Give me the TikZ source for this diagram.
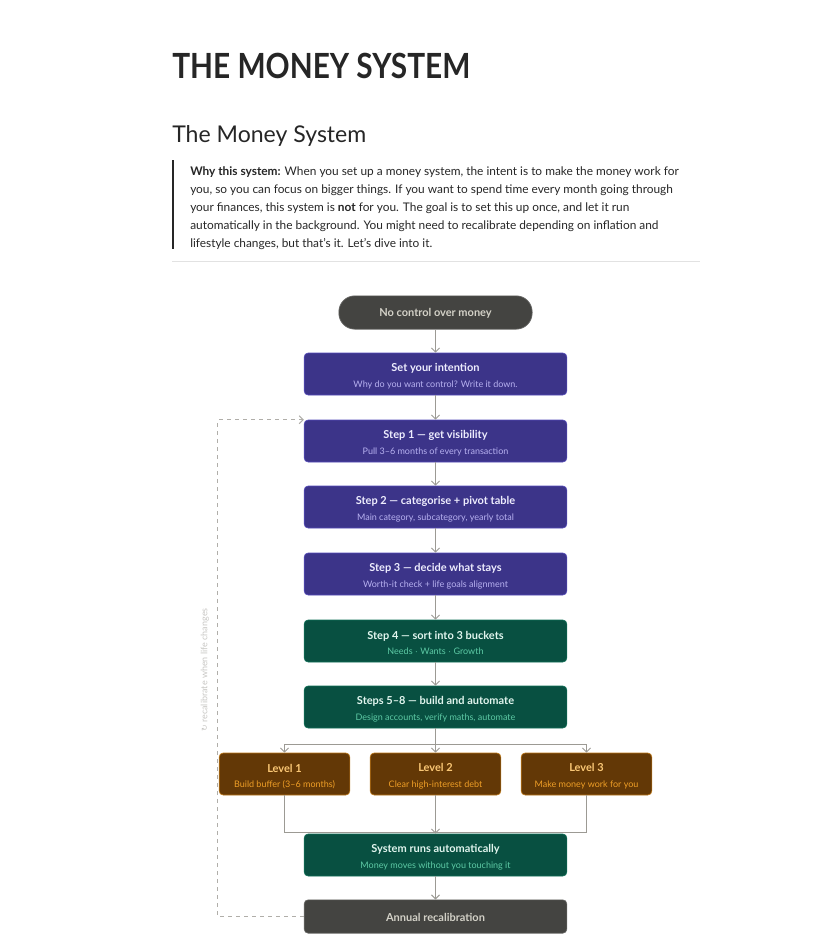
\documentclass[tikz,border=0pt]{standalone}
\usepackage{fontspec}
\setmainfont{Lato}
\newfontfamily\headfont[FakeStretch=0.86]{Lato}
\newfontfamily\symfont{DejaVu Sans}
\usetikzlibrary{positioning,arrows.meta}

\definecolor{inkdark}{HTML}{262626}
\definecolor{rulegray}{HTML}{E2E2E2}
\definecolor{linegray}{HTML}{9C9A94}
\definecolor{purplefill}{HTML}{3C3489}
\definecolor{purpleedge}{HTML}{534AB7}
\definecolor{purpletop}{HTML}{EEEDFE}
\definecolor{purplesub}{HTML}{B7B1F0}
\definecolor{greenfill}{HTML}{085041}
\definecolor{greenedge}{HTML}{0F6E56}
\definecolor{greentop}{HTML}{E1F5EE}
\definecolor{greensub}{HTML}{5DCAA5}
\definecolor{brownfill}{HTML}{633806}
\definecolor{brownedge}{HTML}{BA7517}
\definecolor{browntop}{HTML}{FAC775}
\definecolor{brownsub}{HTML}{EF9F27}
\definecolor{grayfill}{HTML}{444441}
\definecolor{graytext}{HTML}{D3D1C7}

\begin{document}
\begin{tikzpicture}[x=0.75pt,y=-0.75pt]
    \tikzset{
    stepbox/.style={
        draw=purpleedge,
        line width=0.5pt,
        fill=purplefill,
        rounded corners=3pt,
        minimum width=197pt,
        minimum height=31.5pt,
        text height=21pt,
        align=center,
        inner sep=0pt
    },
    greenbox/.style={
        stepbox,
        draw=greenedge,
        fill=greenfill
    },
    levelbox/.style={
        stepbox,
        draw=brownedge,
        fill=brownfill,
        minimum width=98pt
    },
    endbox/.style={
        stepbox,
        draw=grayfill!80!white,
        fill=grayfill,
        minimum height=25pt,
        text height=7pt,
        text=graytext,
        font=\fontsize{8.25}{10}\selectfont\bfseries
    },
    flow/.style={
        line width=0.75pt,
        linegray,
        -{Straight Barb[length=3pt,width=6pt]}
    },
    link/.style={
        line width=0.75pt,
        linegray
    }
}
    \useasboundingbox (0,0) rectangle (827,951);

    % page heading and intro
    \node[anchor=base west, inner sep=0pt, text=inkdark, font=\headfont\fontsize{26}{30}\selectfont\bfseries] (title) at (172,78) {THE MONEY SYSTEM};
    \node[anchor=base west, inner sep=0pt, text=inkdark, font=\fontsize{17.3}{21}\selectfont] (subtitle) at (172,142) {The Money System};
    \node[anchor=north west, inner sep=0pt, align=left, text=inkdark, font=\fontsize{8.9}{13.5}\selectfont] (intro) at (190,166)
        {\textbf{Why this system:} When you set up a money system, the intent is to make the money work for\\
         you, so you can focus on bigger things. If you want to spend time every month going through\\
         your finances, this system is \textbf{not} for you. The goal is to set this up once, and let it run\\
         automatically in the background. You might need to recalibrate depending on inflation and\\
         lifestyle changes, but that's it. Let's dive into it.};
    \draw[inkdark, line width=1.5pt] (173,160) -- (173,249);
    \draw[rulegray, line width=0.75pt] (172,261.5) -- (700,261.5);

    % flow boxes
    \node[endbox, rounded corners=12pt, minimum width=145pt] (start) at (435.5,312.5) {No control over money};

    \node[stepbox] (intent) at (435.5,374) {\textcolor{purpletop}{\fontsize{8.25}{11}\selectfont\bfseries Set your intention}\\[-0.5pt]
        \textcolor{purplesub}{\fontsize{6.75}{9}\selectfont Why do you want control? Write it down.}};
    \node[stepbox] (s1) at (435.5,441) {\textcolor{purpletop}{\fontsize{8.25}{11}\selectfont\bfseries Step 1 --- get visibility}\\[-0.5pt]
        \textcolor{purplesub}{\fontsize{6.75}{9}\selectfont Pull 3--6 months of every transaction}};
    \node[stepbox] (s2) at (435.5,507) {\textcolor{purpletop}{\fontsize{8.25}{11}\selectfont\bfseries Step 2 --- categorise + pivot table}\\[-0.5pt]
        \textcolor{purplesub}{\fontsize{6.75}{9}\selectfont Main category, subcategory, yearly total}};
    \node[stepbox] (s3) at (435.5,574) {\textcolor{purpletop}{\fontsize{8.25}{11}\selectfont\bfseries Step 3 --- decide what stays}\\[-0.5pt]
        \textcolor{purplesub}{\fontsize{6.75}{9}\selectfont Worth-it check + life goals alignment}};
    \node[greenbox] (s4) at (435.5,641) {\textcolor{greentop}{\fontsize{8.25}{11}\selectfont\bfseries Step 4 --- sort into 3 buckets}\\[-0.5pt]
        \textcolor{greensub}{\fontsize{6.75}{9}\selectfont Needs $\cdot$ Wants $\cdot$ Growth}};
    \node[greenbox] (s58) at (435.5,707) {\textcolor{greentop}{\fontsize{8.25}{11}\selectfont\bfseries Steps 5--8 --- build and automate}\\[-0.5pt]
        \textcolor{greensub}{\fontsize{6.75}{9}\selectfont Design accounts, verify maths, automate}};

    \node[levelbox] (l1) at (284.5,774) {\textcolor{browntop}{\fontsize{8.25}{11}\selectfont\bfseries Level 1}\\[-0.5pt]
        \textcolor{brownsub}{\fontsize{6.75}{9}\selectfont Build buffer (3--6 months)}};
    \node[levelbox] (l2) at (435.5,774) {\textcolor{browntop}{\fontsize{8.25}{11}\selectfont\bfseries Level 2}\\[-0.5pt]
        \textcolor{brownsub}{\fontsize{6.75}{9}\selectfont Clear high-interest debt}};
    \node[levelbox] (l3) at (586.5,774) {\textcolor{browntop}{\fontsize{8.25}{11}\selectfont\bfseries Level 3}\\[-0.5pt]
        \textcolor{brownsub}{\fontsize{6.75}{9}\selectfont Make money work for you}};

    \node[greenbox] (auto) at (435.5,855) {\textcolor{greentop}{\fontsize{8.25}{11}\selectfont\bfseries System runs automatically}\\[-0.5pt]
        \textcolor{greensub}{\fontsize{6.75}{9}\selectfont Money moves without you touching it}};
    \node[endbox] (annual) at (435.5,916.5) {Annual recalibration};

    % connectors
    \draw[flow] (start) -- (intent);
    \draw[flow] (intent) -- (s1);
    \draw[flow] (s1) -- (s2);
    \draw[flow] (s2) -- (s3);
    \draw[flow] (s3) -- (s4);
    \draw[flow] (s4) -- (s58);

    \draw[link] (s58.south) -- ++(0,16) coordinate (fork);
    \draw[flow] (fork) -| (l1.north);
    \draw[flow] (fork) -- (l2.north);
    \draw[flow] (fork) -| (l3.north);

    \coordinate (join) at (435.5,832);
    \draw[link] (l1.south) |- (join);
    \draw[link] (l3.south) |- (join);
    \draw[flow] (l2.south) -- (auto.north);
    \draw[flow] (auto) -- (annual);

    % yearly loop back
    \draw[flow, dashed, linegray!80] (annual.west) -- ++(-86,0) |- (s1.north west);
    \node[rotate=90, text=linegray!55, font=\fontsize{6.75}{8}\selectfont] (looplabel) at (205,670)
        {{\symfont\fontsize{6}{8}\selectfont ↻} recalibrate when life changes};
\end{tikzpicture}
\end{document}
